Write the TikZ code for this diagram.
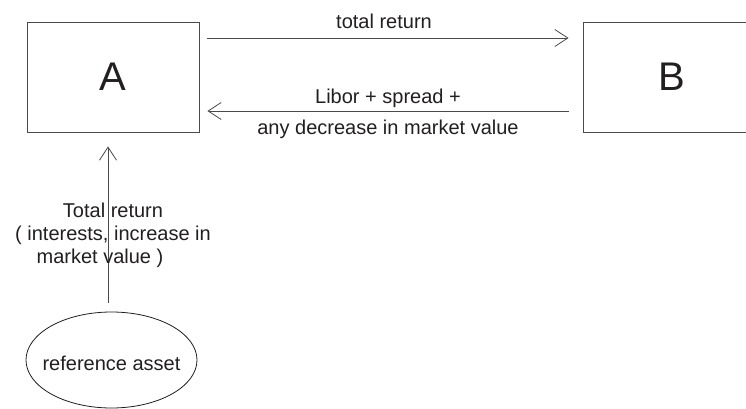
\documentclass[tikz,border=0pt]{standalone}
\usepackage{fontspec}
\setmainfont{Liberation Sans}
\usetikzlibrary{arrows.meta,shapes.geometric,calc}
\definecolor{ink}{HTML}{231F20}
\definecolor{edge}{HTML}{4A4A4A}
\begin{document}
\begin{tikzpicture}[x=1pt,y=-1pt,
  party/.style={draw=edge,line width=0.9pt,rectangle,minimum height=110pt,
    text=ink,font=\fontsize{40}{44}\selectfont},
  lbl/.style={text=ink,font=\fontsize{20}{23}\selectfont,inner sep=0pt},
  flow/.style={draw=edge,line width=0.8pt,
    -{Straight Barb[length=13pt,width=17pt,line width=0.8pt]}},
  asset/.style={draw=ink,line width=0.8pt,ellipse,minimum width=171pt,
    minimum height=96pt,inner sep=0pt}]
  \clip (0,0) rectangle (746,409);
  \fill[white] (0,0) rectangle (746,409);

  % counterparties
  \node[party,minimum width=172pt] (A) at (113,77) {A};
  \node[party,minimum width=178pt] (B) at (672,77) {B};

  % underlying asset
  \node[asset,label={[lbl,yshift=-3pt]center:reference asset}] (E) at (111.5,360) {};

  % cash flows between A and B
  \coordinate (t1) at ($(A.east)+(8,-39)$);
  \coordinate (t2) at ($(B.west)+(-14,-39)$);
  \coordinate (b1) at ($(B.west)+(-14,34)$);
  \coordinate (b2) at ($(A.east)+(8,34)$);
  \draw[flow] (t1) -- (t2);
  \draw[flow] (b1) -- (b2);

  % flow from the asset to A
  \coordinate (v1) at ($(E.north)+(-3.5,-9)$);
  \coordinate (v2) at ($(A.south)+(-5,14)$);
  \draw[flow] (v1) -- (v2);

  % labels
  \node[lbl,anchor=base] (ltr) at (384,29) {total return};
  \node[lbl,anchor=base] (llib) at (388,103) {Libor + spread +};
  \node[lbl,anchor=base] (ldec) at (388,135) {any decrease in market value};
  \node[lbl,align=center,anchor=base] (ltot) at (113,263)
    {Total return\\( interests, increase in\\market value )\hspace*{26pt}};
\end{tikzpicture}
\end{document}
